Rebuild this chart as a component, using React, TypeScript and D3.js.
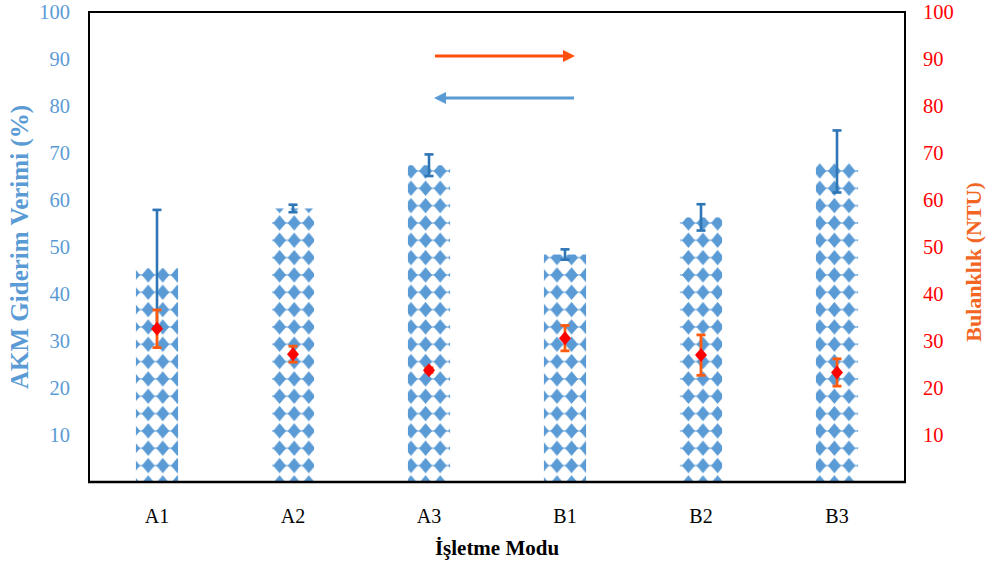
import React, { useEffect } from "react";
import * as d3 from "d3";

const categories = ["A1", "A2", "A3", "B1", "B2", "B3"];
const akmValues = [45.5, 58.2, 67.4, 48.4, 56.3, 68.2];
const akmErrors = [12.4, 0.8, 2.3, 1.1, 2.8, 6.6];
const ntuValues = [32.6, 27.2, 23.8, 30.6, 27.0, 23.3];
const ntuErrors = [4.0, 1.7, 0.5, 2.7, 4.3, 2.9];
const leftTicks = [10, 20, 30, 40, 50, 60, 70, 80, 90, 100];
const rightTicks = [10, 20, 30, 40, 50, 60, 70, 80, 90, 100];

const W = 992;
const H = 569;
const M = { left: 89, right: 905, top: 12, bottom: 482 };
const FONT = "'Liberation Serif', 'Times New Roman', serif";

export default function App() {
  useEffect(() => {
    document.body.style.margin = "0";
  }, []);

  const x = d3
    .scaleBand<string>()
    .domain(categories)
    .range([M.left, M.right])
    .paddingInner(0.69)
    .paddingOuter(0.345);
  const yL = d3.scaleLinear().domain([0, 100]).range([M.bottom, M.top]);
  const yR = d3.scaleLinear().domain([0, 100]).range([M.bottom, M.top]);
  const bw = x.bandwidth();

  const pw = 14.6;
  const ph = 17.33;
  const dx = 2.2;
  const dy = 15.0;
  const cxp = pw / 2;
  const cyp = ph / 2;

  const arrowY1 = 56;
  const arrowY2 = 98;

  return (
    <svg width={W} height={H} style={{ display: "block", background: "#fff" }}>
      <defs>
        <pattern
          id="dia"
          patternUnits="userSpaceOnUse"
          width={pw}
          height={ph}
          x={dx - pw / 2}
          y={dy - ph / 2}
        >
          <path
            d={`M${cxp},${cyp - 7.8} L${cxp + 5.4},${cyp - 1.2} L${cxp + 5.4},${cyp + 1.2} L${cxp},${cyp + 7.8} L${cxp - 5.4},${cyp + 1.2} L${cxp - 5.4},${cyp - 1.2} Z`}
            fill="#5B9BD5"
          />
          <rect x={cxp - 6.9} y={cyp - 0.9} width={13.8} height={1.8} fill="#5B9BD5" />
        </pattern>
      </defs>

      {/* bars */}
      {categories.map((c, i) => (
        <rect
          key={"b" + c}
          x={x(c)}
          y={yL(akmValues[i])}
          width={bw}
          height={M.bottom - yL(akmValues[i])}
          fill="url(#dia)"
        />
      ))}

      {/* blue error bars */}
      {categories.map((c, i) => {
        const cx = (x(c) as number) + bw / 2;
        const t = yL(akmValues[i] + akmErrors[i]);
        const b = yL(akmValues[i] - akmErrors[i]);
        return (
          <g key={"eb" + c} stroke="#2E75B6" strokeWidth={2.6}>
            <line x1={cx} x2={cx} y1={t} y2={b} />
            <line x1={cx - 4.5} x2={cx + 4.5} y1={t} y2={t} />
            <line x1={cx - 4.5} x2={cx + 4.5} y1={b} y2={b} />
          </g>
        );
      })}

      {/* orange error bars + red markers */}
      {categories.map((c, i) => {
        const cx = (x(c) as number) + bw / 2;
        const cy = yR(ntuValues[i]);
        const t = yR(ntuValues[i] + ntuErrors[i]);
        const b = yR(ntuValues[i] - ntuErrors[i]);
        return (
          <g key={"r" + c}>
            <g stroke="#FF5B0F" strokeWidth={2.8}>
              <line x1={cx} x2={cx} y1={t} y2={b} />
              <line x1={cx - 4.5} x2={cx + 4.5} y1={t} y2={t} />
              <line x1={cx - 4.5} x2={cx + 4.5} y1={b} y2={b} />
            </g>
            <path
              d={`M${cx},${cy - 7} L${cx + 6},${cy} L${cx},${cy + 7} L${cx - 6},${cy} Z`}
              fill="#FF0000"
            />
          </g>
        );
      })}

      {/* frame */}
      <rect
        x={M.left}
        y={M.top}
        width={M.right - M.left}
        height={M.bottom - M.top}
        fill="none"
        stroke="#000"
        strokeWidth={2}
      />
      <line x1={M.left - 1} x2={M.right + 1} y1={M.bottom} y2={M.bottom} stroke="#000" strokeWidth={2.6} />

      {/* left ticks */}
      {leftTicks.map((t) => (
        <text
          key={"lt" + t}
          x={70}
          y={yL(t)}
          dy="0.35em"
          textAnchor="end"
          fontFamily={FONT}
          fontSize={20.5}
          fill="#5B9BD5"
        >
          {t}
        </text>
      ))}
      {/* right ticks */}
      {rightTicks.map((t) => (
        <text
          key={"rt" + t}
          x={923}
          y={yR(t)}
          dy="0.35em"
          textAnchor="start"
          fontFamily={FONT}
          fontSize={20.5}
          fill="#FF0000"
        >
          {t}
        </text>
      ))}

      {/* x labels */}
      {categories.map((c) => (
        <text
          key={"xl" + c}
          x={(x(c) as number) + bw / 2}
          y={523}
          textAnchor="middle"
          fontFamily={FONT}
          fontSize={20}
          fill="#000"
        >
          {c}
        </text>
      ))}
      <text
        x={497}
        y={555}
        textAnchor="middle"
        fontFamily={FONT}
        fontSize={21}
        fontWeight="bold"
        fill="#000"
      >
        İşletme Modu
      </text>

      {/* axis titles */}
      <text
        transform={`translate(28,247) rotate(-90)`}
        textAnchor="middle"
        fontFamily={FONT}
        fontSize={25}
        fontWeight="bold"
        fill="#5B9BD5"
      >
        AKM Giderim Verimi (%)
      </text>
      <text
        transform={`translate(981,262) rotate(-90)`}
        textAnchor="middle"
        fontFamily={FONT}
        fontSize={22}
        fontWeight="bold"
        fill="#F26522"
      >
        Bulanklık (NTU)
      </text>

      {/* arrows */}
      <line x1={435} x2={564} y1={arrowY1} y2={arrowY1} stroke="#FF4F0F" strokeWidth={3} />
      <path d={`M${575},${arrowY1} L${563},${arrowY1 - 6} L${563},${arrowY1 + 6} Z`} fill="#FF4F0F" />
      <line x1={445} x2={574} y1={arrowY2} y2={arrowY2} stroke="#5B9BD5" strokeWidth={3} />
      <path d={`M${434},${arrowY2} L${446},${arrowY2 - 6} L${446},${arrowY2 + 6} Z`} fill="#5B9BD5" />
    </svg>
  );
}
